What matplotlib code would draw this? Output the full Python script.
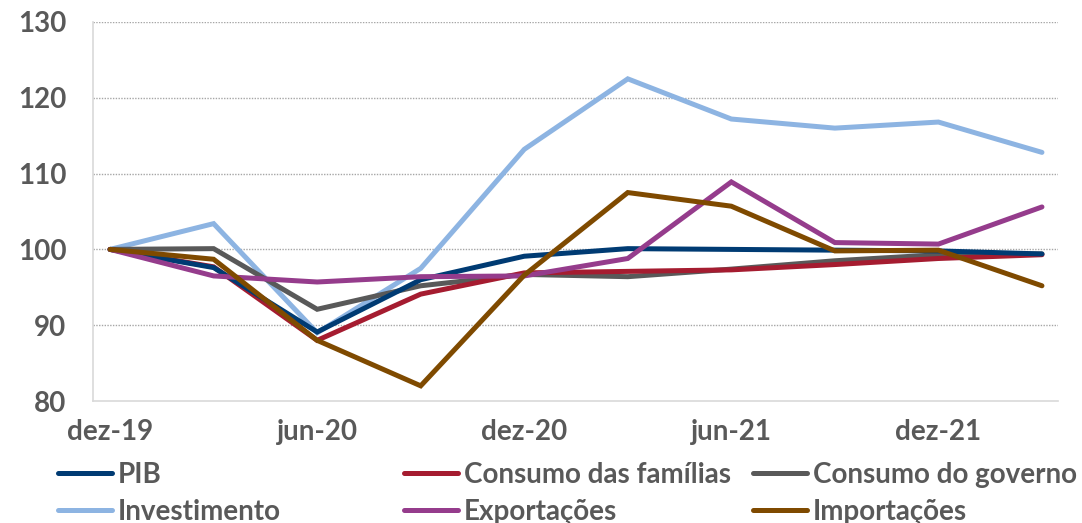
import matplotlib
matplotlib.use("Agg")
import matplotlib.pyplot as plt
import numpy as np

# quarterly index, dez-19 = 100
quarters = ["dez-19", "mar-20", "jun-20", "set-20", "dez-20",
            "mar-21", "jun-21", "set-21", "dez-21", "mar-22"]
pib = [100, 97.6, 89.1, 96.0, 99.1, 100.1, 100.0, 99.9, 99.8, 99.4]
consumo_familias = [100, 97.7, 88.0, 94.1, 96.9, 97.1, 97.3, 98.0, 98.8, 99.3]
consumo_governo = [100, 100.1, 92.1, 95.2, 96.7, 96.4, 97.4, 98.5, 99.3, 99.4]
investimento = [100, 103.4, 89.0, 97.5, 113.2, 122.5, 117.2, 116.0, 116.8, 112.8]
exportacoes = [100, 96.5, 95.7, 96.4, 96.5, 98.8, 108.9, 100.9, 100.7, 105.6]
importacoes = [100, 98.7, 88.0, 82.0, 96.6, 107.5, 105.7, 99.8, 99.9, 95.2]

series = [
    ("PIB", pib, "#003B73"),
    ("Consumo das famílias", consumo_familias, "#A51C30"),
    ("Consumo do governo", consumo_governo, "#595959"),
    ("Investimento", investimento, "#8DB4E2"),
    ("Exportações", exportacoes, "#953C8C"),
    ("Importações", importacoes, "#7F4A00"),
]
draw_order = ["Investimento", "Consumo do governo", "Consumo das famílias",
              "PIB", "Exportações", "Importações"]

plt.rcParams['font.family'] = ['Lato', 'DejaVu Sans']
plt.rcParams['font.weight'] = 'bold'
text_color = "#595959"

fig = plt.figure(figsize=(10.82, 5.23), dpi=100)
ax = fig.add_axes([93 / 1082, 122 / 523, 965 / 1082, 379 / 523])

x = np.arange(len(quarters))
handles = {}
for name in draw_order:
    label, vals, color = [s for s in series if s[0] == name][0]
    ln, = ax.plot(x, vals, color=color, lw=3.6, solid_joinstyle='miter',
                  solid_capstyle='round', label=label,
                  zorder=3 + draw_order.index(name))
    handles[label] = ln

ax.set_xlim(-0.165, 9.155)
ax.set_ylim(80, 130)
ax.set_yticks(np.arange(80, 131, 10))
ax.set_xticks(x[::2])
ax.set_xticklabels(quarters[::2])

for v in range(90, 131, 10):
    ax.axhline(v, color="#A6A6A6", lw=1.0, ls=(0, (1, 1)), zorder=1)

for side in ["top", "right"]:
    ax.spines[side].set_visible(False)
ax.spines["left"].set_color("#D9D9D9")
ax.spines["bottom"].set_color("#D9D9D9")
ax.spines["left"].set_linewidth(1.2)
ax.spines["bottom"].set_linewidth(1.2)

ax.tick_params(axis="y", length=0, pad=19, labelsize=20, labelcolor=text_color)
ax.tick_params(axis="x", length=0, pad=13, labelsize=20, labelcolor=text_color)
for t in ax.get_xticklabels() + ax.get_yticklabels():
    t.set_fontweight('bold')

# legend: three fixed-width columns, two rows
columns = [["PIB", "Investimento"],
           ["Consumo das famílias", "Exportações"],
           ["Consumo do governo", "Importações"]]
col_x = [58 / 1082, 404 / 1082, 753 / 1082]
for cx, names in zip(col_x, columns):
    leg = fig.legend([handles[n] for n in names], names, loc="center left",
                     bbox_to_anchor=(cx, 0.057), frameon=False,
                     borderpad=0, borderaxespad=0, handlelength=1.95,
                     handletextpad=0.2, labelspacing=0.4,
                     prop={"size": 20, "weight": "bold"})
    for t in leg.get_texts():
        t.set_color(text_color)
    for h in leg.legend_handles:
        h.set_linewidth(3.6)

fig.savefig("out.png", dpi=100)
